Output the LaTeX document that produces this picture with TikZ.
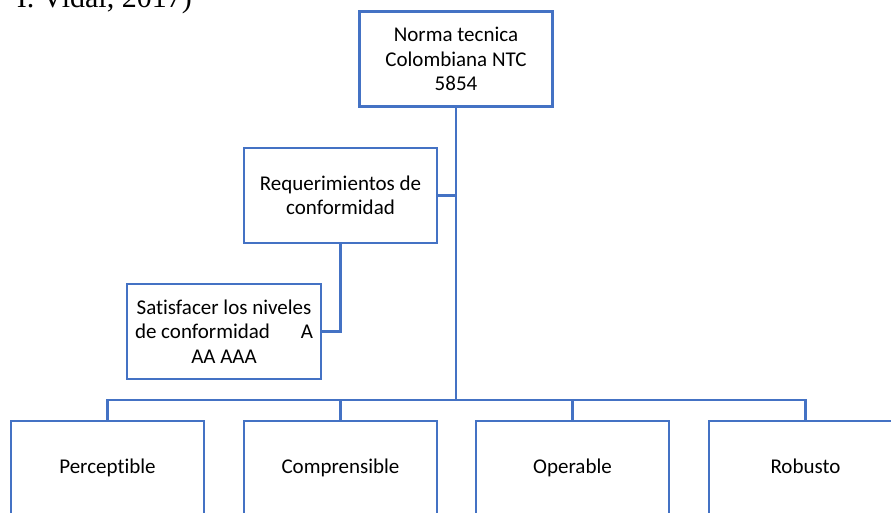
\documentclass[tikz,border=0pt]{standalone}
\usepackage{fontspec}
\setmainfont[Ligatures=CommonOff]{Carlito}
\newfontfamily\citefont{Liberation Serif}
\definecolor{boxblue}{HTML}{4472C4}
\begin{document}
\begin{tikzpicture}[x=1pt,y=-1pt,
  orgbox/.style={draw=boxblue, line width=2.5pt, fill=white, inner sep=3pt,
    minimum width=193pt, minimum height=95pt, align=center,
    font=\fontsize{21}{24.5}\selectfont},
  leafbox/.style={orgbox, minimum height=94pt, text height=15pt, text depth=5pt},
  link/.style={draw=boxblue, line width=2.5pt}]
  \useasboundingbox (0,0) rectangle (891,513);
  \clip (0,0) rectangle (891,513);

  % citation fragment at the top edge
  \node[anchor=base east, inner sep=0pt, font=\citefont\fontsize{30}{36}\selectfont]
    (cite) at (192,7.5) {I. Vidal, 2017)};

  % boxes
  \node[orgbox] (ntc) at (456,59) {Norma tecnica\\Colombiana NTC\\5854};
  \node[orgbox] (req) at (340.5,195.5) {Requerimientos de\\conformidad};
  \node[orgbox, minimum width=194pt] (sat) at (224,331.5)
    {Satisfacer los niveles\\\hbox to 178pt{de conformidad\hfill A}\\AA AAA};
  \node[leafbox] (per) at (107.5,468) {Perceptible};
  \node[leafbox] (com) at (340.5,468) {Comprensible};
  \node[leafbox] (ope) at (572.5,468) {Operable};
  \node[leafbox] (rob) at (805.5,468) {Robusto};

  \coordinate (bus) at (0,400);

  % connectors
  \draw[link] (ntc.south) -- (ntc.south |- bus);
  \draw[link] (req.east) -- (req.east -| ntc.south);
  \draw[link] (req.south) |- (sat.east);
  \foreach \c in {per,com,ope,rob}
    \draw[link] (\c.north) |- (ntc.south |- bus);
\end{tikzpicture}
\end{document}
